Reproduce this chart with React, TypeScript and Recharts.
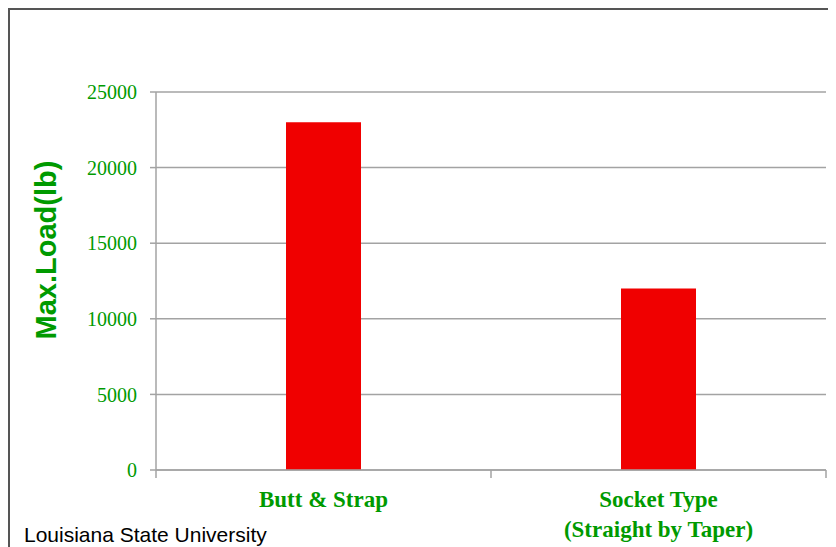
import { BarChart, Bar, XAxis, YAxis, CartesianGrid } from 'recharts';

const categories = ['Butt & Strap', 'Socket Type\n(Straight by Taper)'];
const maxLoad = [23000, 12000];
const yTicks = [0, 5000, 10000, 15000, 20000, 25000];

const data = categories.map((name, i) => ({ name, load: maxLoad[i] }));

const W = 828;
const H = 539;
const MARGIN = { top: 84, right: 10, left: 0, bottom: 0 };
const Y_AXIS_W = 148;
const X_AXIS_H = 77;
const PLOT_W = W - MARGIN.left - MARGIN.right - Y_AXIS_W;
const BAND = PLOT_W / categories.length;

const GREEN = '#009a00';
const GRID = '#a3a3a3';
const SERIF = '"Liberation Serif", "Times New Roman", serif';
const SANS = '"Liberation Sans", Arial, sans-serif';

function CategoryTick(props: any) {
  const { x, y, payload, index } = props;
  const lines = String(payload.value).split('\n');
  const half = BAND / 2;
  return (
    <g>
      <line x1={x - half} y1={y} x2={x - half} y2={y + 8} stroke={GRID} strokeWidth={1.5} />
      {index === categories.length - 1 && (
        <line x1={x + half} y1={y} x2={x + half} y2={y + 8} stroke={GRID} strokeWidth={1.5} />
      )}
      <text
        x={x}
        y={y + 37}
        textAnchor="middle"
        fill={GREEN}
        fontFamily={SERIF}
        fontWeight="bold"
        fontSize={23}
      >
        {lines.map((l, i) => (
          <tspan key={i} x={x} dy={i === 0 ? 0 : 30}>
            {l}
          </tspan>
        ))}
      </text>
    </g>
  );
}

function YLabel(props: any) {
  const vb = props.viewBox || { x: 0, y: 0, width: 0, height: 0 };
  const cx = vb.x + 38;
  const cy = vb.y + vb.height / 2 - 31;
  return (
    <text
      x={cx}
      y={cy}
      transform={`rotate(-90, ${cx}, ${cy})`}
      textAnchor="middle"
      dominantBaseline="central"
      fill={GREEN}
      fontFamily={SANS}
      fontWeight="bold"
      fontSize={29}
    >
      Max.Load(lb)
    </text>
  );
}

export default function App() {
  return (
    <div style={{ position: 'relative', width: W, height: H, overflow: 'hidden', background: '#fff' }}>
      <BarChart width={W} height={H} data={data} margin={MARGIN} barSize={75}>
        <CartesianGrid horizontal vertical={false} stroke={GRID} strokeWidth={1.5} />
        <XAxis
          dataKey="name"
          height={X_AXIS_H}
          interval={0}
          axisLine={{ stroke: GRID, strokeWidth: 1.5 }}
          tickLine={false}
          tickSize={0}
          tickMargin={0}
          tick={<CategoryTick />}
        />
        <YAxis
          width={Y_AXIS_W}
          domain={[0, 25000]}
          ticks={yTicks}
          interval={0}
          axisLine={{ stroke: GRID, strokeWidth: 1.5 }}
          tickLine={{ stroke: GRID, strokeWidth: 1.5 }}
          tickSize={6}
          tickMargin={13}
          tick={{ fill: GREEN, fontFamily: SERIF, fontSize: 20 }}
          label={<YLabel />}
        />
        <Bar dataKey="load" fill="#f00000" isAnimationActive={false} />
      </BarChart>
      <div
        style={{
          position: 'absolute',
          left: 0,
          top: 0,
          width: W,
          height: H,
          borderTop: '2px solid #555',
          borderLeft: '2px solid #555',
          pointerEvents: 'none',
        }}
      />
      <div
        style={{
          position: 'absolute',
          left: 16,
          top: 515,
          fontFamily: SANS,
          fontSize: 21,
          color: '#000',
          whiteSpace: 'nowrap',
          lineHeight: '24px',
        }}
      >
        Louisiana State University
      </div>
    </div>
  );
}
